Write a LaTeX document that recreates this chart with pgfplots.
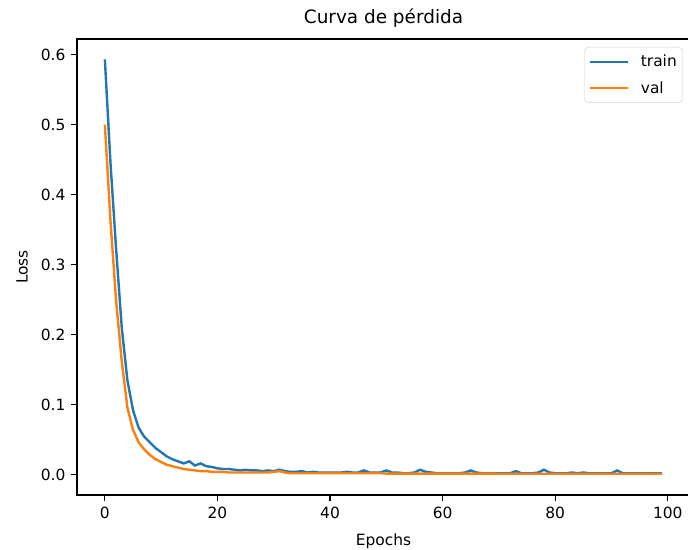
\documentclass[border=0pt]{standalone}
\usepackage{pgfplots}
\pgfplotsset{compat=1.18}
\usepackage{fontspec}
\setmainfont{DejaVu Sans}

\definecolor{mplblue}{HTML}{1F77B4}
\definecolor{mplorange}{HTML}{FF7F0E}

\begin{document}
\begin{tikzpicture}
\begin{axis}[
    at={(0,0)}, anchor=south west,
    scale only axis,
    width=613bp, height=456bp,
    xmin=-4.95, xmax=103.95,
    ymin=-0.0291, ymax=0.6222,
    xtick={0,20,40,60,80,100},
    ytick={0,0.1,0.2,0.3,0.4,0.5,0.6},
    yticklabel style={/pgf/number format/fixed, /pgf/number format/fixed zerofill, /pgf/number format/precision=1},
    /pgf/number format/assume math mode=true,
    tick align=outside,
    major tick length=5.6bp,
    every tick/.style={black, line width=1.2bp},
    axis line style={black, line width=1.2bp},
    x axis line style={-}, y axis line style={-},
    xtick pos=bottom, ytick pos=left,
    ticklabel style={font=\fontsize{15.5}{18}\selectfont, inner sep=0pt},
    xticklabel style={yshift=-5.8bp},
    yticklabel style={xshift=-5.8bp},
    title={Curva de pérdida},
    title style={font=\fontsize{18.5}{22}\selectfont, at={(axis description cs:0.5,1)}, anchor=south, yshift=5bp, inner sep=0pt},
    xlabel={Epochs},
    xlabel style={font=\fontsize{15.5}{18}\selectfont, at={([yshift=-50bp]axis description cs:0.5,0)}, anchor=base, inner sep=0pt},
    ylabel={Loss},
    ylabel style={font=\fontsize{15.5}{18}\selectfont, at={([xshift=-55bp]axis description cs:0,0.5)}, anchor=center, inner sep=0pt},
    legend style={at={(axis description cs:1,1)}, anchor=north east, xshift=-7bp, yshift=-8bp,
        font=\fontsize{15.5}{18}\selectfont, draw=black!20, rounded corners=4bp,
        inner xsep=4bp, inner ysep=6bp, row sep=9bp,
        /tikz/every odd column/.append style={column sep=10bp}},
    legend cell align=left,
    legend image code/.code={\draw[#1, line width=2.4bp] (0bp,0bp) -- (38bp,0bp);},
]
\addplot[mplblue, line width=2.4bp] table {
x y
0 0.593
1 0.445
2 0.322
3 0.210
4 0.135
5 0.092
6 0.067
7 0.054
8 0.046
9 0.038
10 0.032
11 0.026
12 0.022
13 0.019
14 0.016
15 0.019
16 0.013
17 0.016
18 0.012
19 0.011
20 0.009
21 0.008
22 0.008
23 0.007
24 0.006
25 0.007
26 0.006
27 0.006
28 0.005
29 0.006
30 0.005
31 0.007
32 0.005
33 0.004
34 0.004
35 0.005
36 0.003
37 0.004
38 0.003
39 0.003
40 0.003
41 0.003
42 0.003
43 0.004
44 0.003
45 0.003
46 0.006
47 0.003
48 0.003
49 0.003
50 0.006
51 0.003
52 0.003
53 0.002
54 0.002
55 0.003
56 0.007
57 0.004
58 0.003
59 0.002
60 0.002
61 0.002
62 0.002
63 0.002
64 0.003
65 0.006
66 0.003
67 0.002
68 0.002
69 0.002
70 0.002
71 0.002
72 0.002
73 0.005
74 0.002
75 0.002
76 0.002
77 0.003
78 0.007
79 0.003
80 0.002
81 0.002
82 0.002
83 0.003
84 0.002
85 0.003
86 0.002
87 0.002
88 0.002
89 0.002
90 0.002
91 0.006
92 0.002
93 0.002
94 0.002
95 0.002
96 0.002
97 0.002
98 0.002
99 0.002
};
\addlegendentry{train}
\addplot[mplorange, line width=2.4bp] table {
x y
0 0.500
1 0.362
2 0.248
3 0.162
4 0.096
5 0.064
6 0.046
7 0.036
8 0.028
9 0.022
10 0.018
11 0.014
12 0.012
13 0.010
14 0.008
15 0.007
16 0.006
17 0.005
18 0.005
19 0.004
20 0.004
21 0.004
22 0.003
23 0.003
24 0.003
25 0.003
26 0.003
27 0.003
28 0.003
29 0.003
30 0.004
31 0.005
32 0.003
33 0.002
34 0.002
35 0.002
36 0.002
37 0.002
38 0.002
39 0.002
40 0.002
41 0.002
42 0.002
43 0.002
44 0.002
45 0.002
46 0.002
47 0.002
48 0.002
49 0.002
50 0.0015
51 0.0015
52 0.0015
53 0.0015
54 0.0015
55 0.0015
56 0.0015
57 0.0015
58 0.0015
59 0.0015
60 0.0015
61 0.0015
62 0.0015
63 0.0015
64 0.0015
65 0.0015
66 0.0015
67 0.0015
68 0.0015
69 0.0015
70 0.0012
71 0.0012
72 0.0012
73 0.0012
74 0.0012
75 0.0012
76 0.0012
77 0.0012
78 0.0012
79 0.0012
80 0.0012
81 0.0012
82 0.0012
83 0.0012
84 0.0012
85 0.0012
86 0.0012
87 0.0012
88 0.0012
89 0.0012
90 0.0012
91 0.0012
92 0.0012
93 0.0012
94 0.0012
95 0.0012
96 0.0012
97 0.0012
98 0.0012
99 0.0012
};
\addlegendentry{val}
\end{axis}
\pgfresetboundingbox
\path[use as bounding box] (-77bp,-55bp) rectangle (611bp,495bp);
\end{tikzpicture}
\end{document}
